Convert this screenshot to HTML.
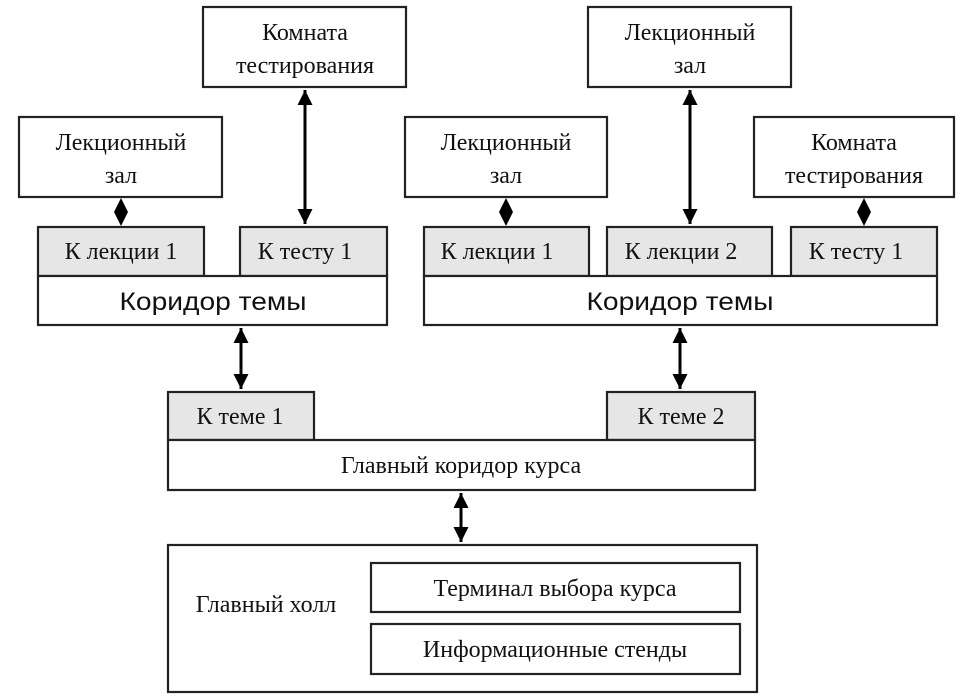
<!DOCTYPE html>
<html><head><meta charset="utf-8"><style>
html,body{margin:0;padding:0;background:#fff;}
svg{display:block;}
text{font-family:"Liberation Serif","DejaVu Serif",serif;font-size:24px;fill:#111;text-anchor:middle;}
.s{font-family:"Liberation Sans","DejaVu Sans",sans-serif;font-size:25px;}
</style></head><body>
<svg width="975" height="700" viewBox="0 0 975 700" xmlns="http://www.w3.org/2000/svg">
<defs>
<marker id="a" viewBox="0 0 10 10" refX="10" refY="5" markerWidth="5" markerHeight="5" orient="auto-start-reverse" markerUnits="strokeWidth"><path d="M0,0 L10,5 L0,10 z" fill="#000"/></marker>
</defs>
<g stroke="#222" stroke-width="2.2" fill="#fff">
<rect x="203" y="7" width="203" height="80"/>
<rect x="19" y="117" width="203" height="80"/>
<rect x="38" y="227" width="166" height="49" fill="#e6e6e6"/>
<rect x="240" y="227" width="147" height="49" fill="#e6e6e6"/>
<rect x="38" y="276" width="349" height="49"/>
<rect x="588" y="7" width="203" height="80"/>
<rect x="405" y="117" width="202" height="80"/>
<rect x="754" y="117" width="200" height="80"/>
<rect x="424" y="227" width="165" height="49" fill="#e6e6e6"/>
<rect x="607" y="227" width="165" height="49" fill="#e6e6e6"/>
<rect x="791" y="227" width="146" height="49" fill="#e6e6e6"/>
<rect x="424" y="276" width="513" height="49"/>
<rect x="168" y="392" width="146" height="48" fill="#e6e6e6"/>
<rect x="607" y="392" width="148" height="48" fill="#e6e6e6"/>
<rect x="168" y="440" width="587" height="50"/>
<rect x="168" y="545" width="589" height="147"/>
<rect x="371" y="563" width="369" height="49"/>
<rect x="371" y="624" width="369" height="50"/>
</g>
<g stroke="#000" stroke-width="3" fill="none">
<line x1="305" y1="90" x2="305" y2="224" marker-start="url(#a)" marker-end="url(#a)"/>
<line x1="690" y1="90" x2="690" y2="224" marker-start="url(#a)" marker-end="url(#a)"/>
<line x1="241" y1="328" x2="241" y2="389" marker-start="url(#a)" marker-end="url(#a)"/>
<line x1="680" y1="328" x2="680" y2="389" marker-start="url(#a)" marker-end="url(#a)"/>
<line x1="461" y1="493" x2="461" y2="542" marker-start="url(#a)" marker-end="url(#a)"/>
</g>
<g fill="#000">
<path d="M121,198 L128,212 L121,226 L114,212 z"/>
<path d="M506,198 L513,212 L506,226 L499,212 z"/>
<path d="M864,198 L871,212 L864,226 L857,212 z"/>
</g>
<text x="305" y="40">Комната</text>
<text x="305" y="73">тестирования</text>
<text x="121" y="150">Лекционный</text>
<text x="121" y="183">зал</text>
<text x="121" y="259">К лекции 1</text>
<text x="305" y="259">К тесту 1</text>
<text class="s" x="213" y="310" textLength="187" lengthAdjust="spacingAndGlyphs">Коридор темы</text>
<text x="690" y="40">Лекционный</text>
<text x="690" y="73">зал</text>
<text x="506" y="150">Лекционный</text>
<text x="506" y="183">зал</text>
<text x="854" y="150">Комната</text>
<text x="854" y="183">тестирования</text>
<text x="497" y="259">К лекции 1</text>
<text x="681" y="259">К лекции 2</text>
<text x="856" y="259">К тесту 1</text>
<text class="s" x="680" y="310" textLength="187" lengthAdjust="spacingAndGlyphs">Коридор темы</text>
<text x="240" y="424">К теме 1</text>
<text x="681" y="424">К теме 2</text>
<text x="461" y="473">Главный коридор курса</text>
<text x="266" y="612">Главный холл</text>
<text x="555" y="596">Терминал выбора курса</text>
<text x="555" y="657">Информационные стенды</text>
</svg>
</body></html>
